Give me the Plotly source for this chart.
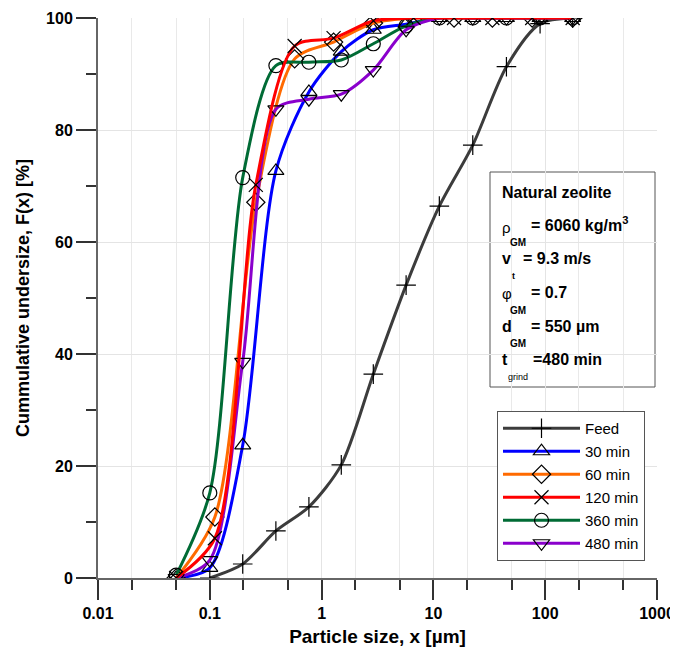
import plotly.graph_objects as go

# ---------------- data ----------------
feed_x = [0.1, 0.197, 0.39, 0.77, 1.5, 2.9, 5.7, 11.3, 22.5, 45, 90, 176]
feed_y = [0, 2.5, 8.4, 12.7, 20.2, 36.4, 52.3, 66.4, 77.3, 91.3, 99.0, 100]

fine_x = [0.05, 0.1, 0.197, 0.39, 0.77, 1.5, 2.9, 5.7, 11.3, 22.5, 45, 90, 176]
min30_y = [0, 1.8, 23.7, 72.7, 86.8, 94.0, 97.9, 98.9, 100, 100, 100, 100, 100]
min360_y = [0.5, 15.2, 71.5, 91.5, 92.1, 92.5, 95.4, 98.6, 100, 100, 100, 100, 100]
min480_y = [0, 3.2, 38.6, 83.7, 85.5, 86.4, 90.7, 97.9, 100, 100, 100, 100, 100]

b_x = [0.05, 0.111, 0.258, 0.574, 1.28, 2.91, 6.65, 15.3, 33.7, 76.5, 176]
min60_y = [0, 10.9, 67.1, 92.7, 95.7, 99.1, 100, 100, 100, 100, 100]
min120_y = [0, 7.1, 70.2, 95.0, 96.4, 99.5, 100, 100, 100, 100, 100]

x_tickvals = [0.01, 0.1, 1, 10, 100, 1000]
x_ticktext = ["0.01", "0.1", "1", "10", "100", "1000"]
y_tickvals = [0, 20, 40, 60, 80, 100]

FONT = "Liberation Sans, Arial, sans-serif"

series = [
    # name, x, y, color, symbol, rank
    ("Feed", feed_x, feed_y, "#3c3c3c", "cross-thin-open", 1),
    ("30 min", fine_x, min30_y, "#0000ff", "triangle-up-open", 2),
    ("60 min", b_x, min60_y, "#ff6a00", "diamond-open", 3),
    ("360 min", fine_x, min360_y, "#006b35", "circle-open", 5),
    ("480 min", fine_x, min480_y, "#8a00cc", "triangle-down-open", 6),
    ("120 min", b_x, min120_y, "#ff0000", "x-thin-open", 4),
]

fig = go.Figure()
for name, xs, ys, col, sym, rank in series:
    fig.add_trace(go.Scatter(
        x=xs, y=ys, name=name, mode="lines+markers",
        line=dict(color=col, width=3, shape="spline", smoothing=0.8),
        marker=dict(symbol=sym, size=14, color="black",
                    line=dict(color="black", width=1.2)),
        legendrank=rank, legendgroup=name,
    ))

# page has an 8px body margin: the figure is drawn from (8, 8)
OFF = 8
W, H = 678 - OFF, 655 - OFF
# plot area in page pixels: x 98..657, y 18..578
L, T = 98 - OFF, 18 - OFF
R = W - (657 - OFF)
B = H - (578 - OFF)
PW, PH = W - L - R, H - T - B


def px(xp):  # page pixel -> paper
    return (xp - 98) / PW


def py(yp):
    return (578 - yp) / PH


annotations = []


def txt(text, xp, yp, size, bold=True, xanchor="left"):
    annotations.append(dict(
        text=f"<b>{text}</b>" if bold else text,
        x=px(xp), y=py(yp), xref="paper", yref="paper",
        xanchor=xanchor, yanchor="middle", showarrow=False,
        font=dict(family=FONT, size=size, color="black")))


txt("Natural zeolite", 500, 192, 16)
txt("ρ", 500, 227, 15, bold=False)
txt("GM", 508, 242, 10)
txt("= 6060 kg/m<sup>3</sup>", 529, 224, 16)
txt("v", 500, 258, 16)
txt("t", 510, 276, 9)
txt("= 9.3 m/s", 521, 258, 16)
txt("φ", 500, 293, 15, bold=False)
txt("GM", 508, 311, 10)
txt("= 0.7", 529, 292, 16)
txt("d", 500, 326, 16)
txt("GM", 508, 344, 10)
txt("= 550 µm", 529, 326, 16)
txt("t", 500, 359, 16)
txt("grind", 506, 377, 9, bold=False)
txt("=480 min", 531, 359, 16)

fig.update_layout(
    template="none",
    width=W, height=H,
    margin=dict(l=L, r=R, t=T, b=B, pad=0, autoexpand=False),
    paper_bgcolor="white", plot_bgcolor="white",
    font=dict(family=FONT, color="black"),
    annotations=annotations,
    shapes=[dict(type="rect", xref="paper", yref="paper",
                 x0=px(490), x1=px(655), y0=py(387), y1=py(172),
                 line=dict(color="#555555", width=1), fillcolor="white",
                 layer="below")],
    legend=dict(
        x=px(497), y=py(411), xanchor="left", yanchor="top",
        bordercolor="#555555", borderwidth=1, bgcolor="white",
        font=dict(family=FONT, size=15, color="black"),
        itemwidth=77, tracegroupgap=0.5,
    ),
    xaxis=dict(
        type="log", range=[-2, 3], automargin=False,
        tickvals=x_tickvals, ticktext=[f"<b>{t}</b>" for t in x_ticktext],
        tickfont=dict(family=FONT, size=16, color="black"),
        ticks="outside", ticklen=20, tickwidth=2, tickcolor="#333333",
        showline=True, linecolor="#666666", linewidth=2, mirror=False,
        showgrid=True, gridcolor="#e4e4e4", gridwidth=1,
        minor=dict(ticks="outside", ticklen=10, tickwidth=1.5, tickcolor="#333333",
                   showgrid=True, gridcolor="#e9e9e9", gridwidth=1),
        zeroline=False,
        title=dict(text="<b>Particle size, x [µm]</b>",
                   font=dict(family=FONT, size=19, color="black"), standoff=8),
    ),
    yaxis=dict(
        range=[0, 100], automargin=False,
        tickvals=y_tickvals,
        ticktext=[f"<b>{v}</b>" for v in y_tickvals],
        tickfont=dict(family=FONT, size=16, color="black"),
        ticks="outside", ticklen=20, tickwidth=2, tickcolor="#333333",
        showline=True, linecolor="#666666", linewidth=2, mirror=False,
        showgrid=True, gridcolor="#e4e4e4", gridwidth=1,
        minor=dict(dtick=10, ticks="outside", ticklen=10, tickwidth=1.5,
                   tickcolor="#333333", showgrid=False),
        zeroline=False,
        title=dict(text="<b>Cummulative undersize, F(x) [%]</b>",
                   font=dict(family=FONT, size=18, color="black"), standoff=12),
    ),
)

fig.write_html("out.html")
